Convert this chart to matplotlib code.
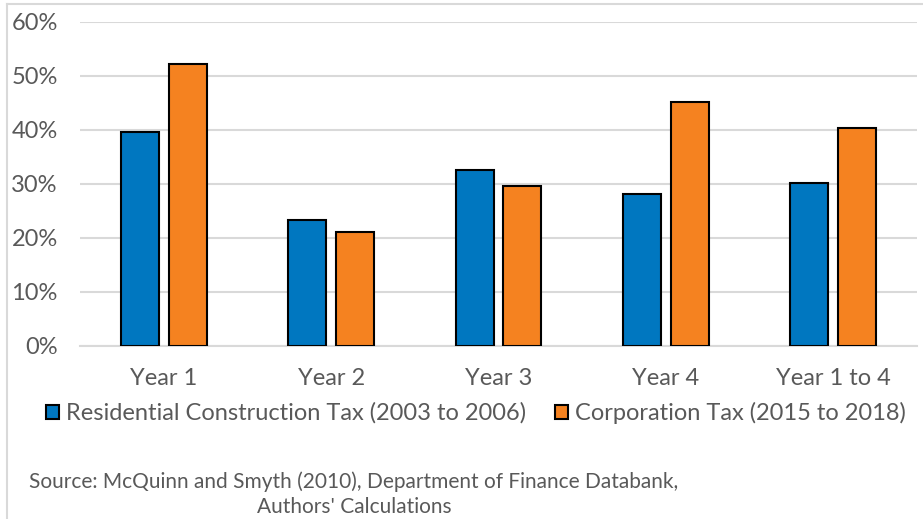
import matplotlib.pyplot as plt
import numpy as np

# data
categories = ["Year 1", "Year 2", "Year 3", "Year 4", "Year 1 to 4"]
residential = [39.6, 23.3, 32.6, 28.1, 30.1]  # Residential Construction Tax (2003 to 2006), %
corporation = [52.2, 21.2, 29.7, 45.2, 40.4]  # Corporation Tax (2015 to 2018), %
yticks = [0, 10, 20, 30, 40, 50, 60]

plt.rcParams["font.family"] = ["Lato", "DejaVu Sans"]
grey = "#595959"

fig = plt.figure(figsize=(9.23, 5.19), dpi=100)
ax = fig.add_axes([80 / 923, 1 - 346 / 519, 837 / 923, 324 / 519])

x = np.arange(len(categories))
w = 0.227
off = 0.143
b1 = ax.bar(x - off, residential, w, color="#0077C0", edgecolor="black", linewidth=1.5,
            label="Residential Construction Tax (2003 to 2006)", zorder=3)
b2 = ax.bar(x + off, corporation, w, color="#F58220", edgecolor="black", linewidth=1.5,
            label="Corporation Tax (2015 to 2018)", zorder=3)

ax.set_xlim(-0.5, len(categories) - 0.5)
ax.set_ylim(0, 60)
ax.set_yticks(yticks)
ax.set_yticklabels(["%d%%" % t for t in yticks])
ax.set_xticks(x)
ax.set_xticklabels(categories)
ax.yaxis.grid(True, color="#D9D9D9", linewidth=1.5, zorder=0)
ax.tick_params(axis="both", length=0, labelsize=17, colors=grey)
ax.tick_params(axis="x", pad=16)
ax.tick_params(axis="y", pad=16)
for s in ["top", "right", "left"]:
    ax.spines[s].set_visible(False)
ax.spines["bottom"].set_color("#D9D9D9")
ax.spines["bottom"].set_linewidth(1.5)

leg = fig.legend(handles=[b1, b2], loc="center", bbox_to_anchor=(476 / 923, 1 - 413 / 519),
                 ncol=2, frameon=False, fontsize=17, handlelength=0.55, handleheight=0.55,
                 handletextpad=0.3, columnspacing=1.2, labelcolor=grey)

fig.text(354 / 923, 1 - 494 / 519,
         "Source: McQuinn and Smyth (2010), Department of Finance Databank,\nAuthors' Calculations",
         ha="center", va="center", fontsize=15, color=grey, linespacing=1.3)

# figure frame (left and top edges)
fig.add_artist(plt.Line2D([7 / 923, 7 / 923], [0, 1 - 4 / 519], color="#D9D9D9", linewidth=1.5))
fig.add_artist(plt.Line2D([7 / 923, 1], [1 - 4 / 519, 1 - 4 / 519], color="#D9D9D9", linewidth=1.5))

fig.savefig("out.png", dpi=100)
